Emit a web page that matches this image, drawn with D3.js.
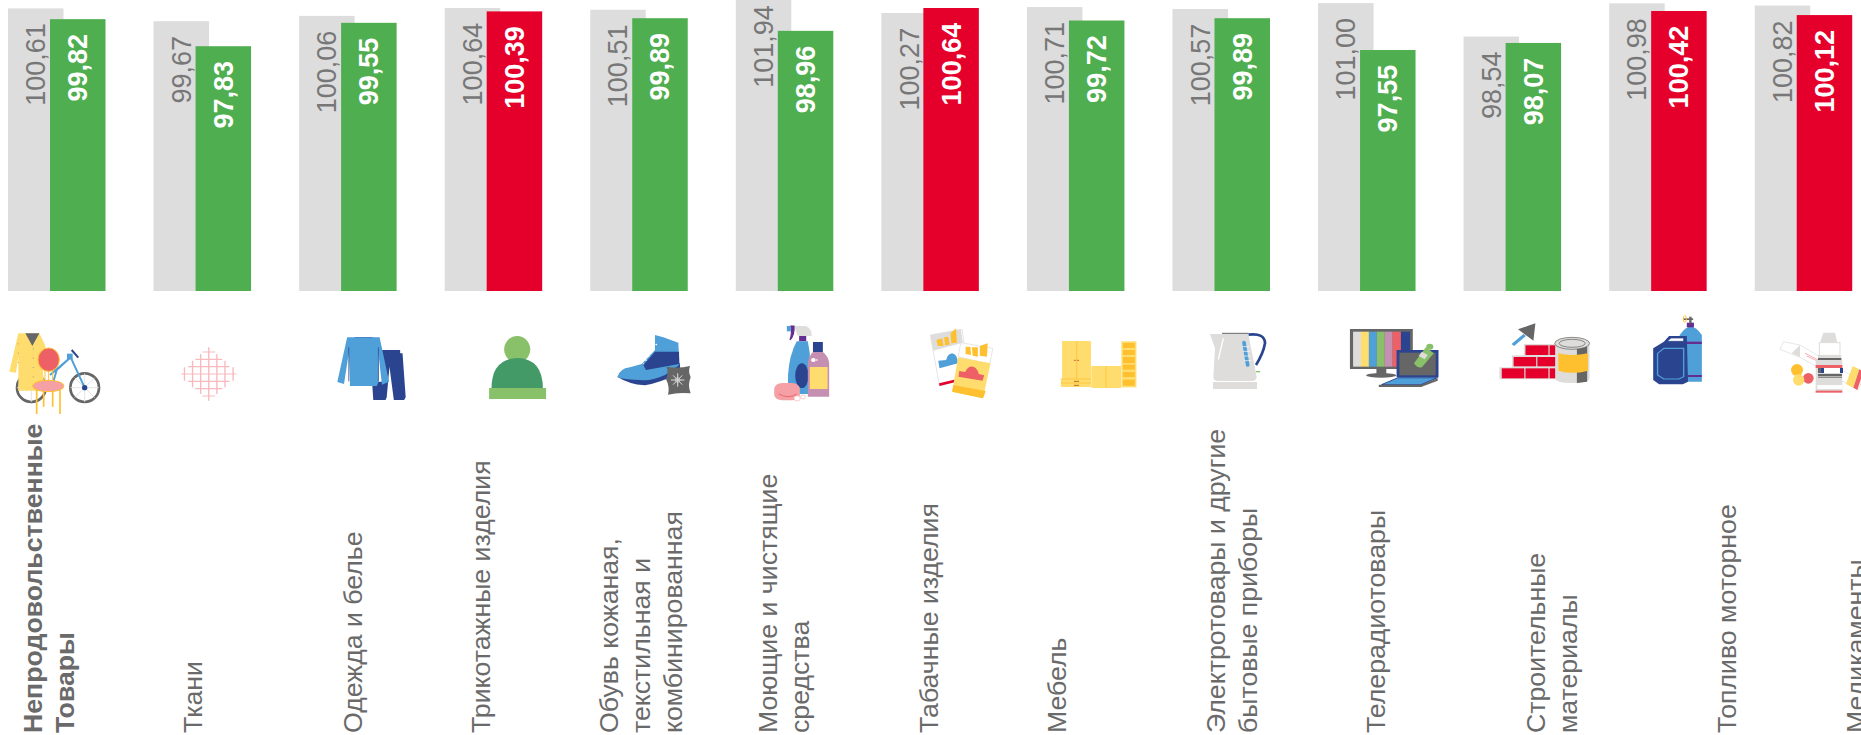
<!DOCTYPE html>
<html lang="ru"><head><meta charset="utf-8">
<script src="https://cdn.jsdelivr.net/npm/d3@7"></script>
<style>
html,body{margin:0;padding:0;background:#fff;overflow:hidden}
svg{display:block}
text{font-family:"Liberation Sans",Arial,sans-serif}
</style></head><body>
<svg id="c" width="1861" height="735"></svg>
<script>
// ---- data ----
const categories = [
  ["Непродовольственные","Товары"],
  ["Ткани"],
  ["Одежда и белье"],
  ["Трикотажные изделия"],
  ["Обувь кожаная,","текстильная и","комбинированная"],
  ["Моющие и чистящие","средства"],
  ["Табачные изделия"],
  ["Мебель"],
  ["Электротовары и другие","бытовые приборы"],
  ["Телерадиотовары"],
  ["Строительные","материалы"],
  ["Топливо моторное"],
  ["Медикаменты"]
];
const previousValues = [100.61,99.67,100.06,100.64,100.51,101.94,100.27,100.71,100.57,101.00,98.54,100.98,100.82];
const currentValues  = [99.82,97.83,99.55,100.39,99.89,98.96,100.64,99.72,99.89,97.55,98.07,100.42,100.12];

// ---- layout ----
const W=1861,H=735, baseY=291, barW=55.5, overlap=42, step=145.56, left=8;
const GREY="#dddddd",GREEN="#4fae50",RED="#e4002b",TXT="#6a6a6a";
const NAVY="#2a4490",BLUE="#4f9fd8",YEL="#ffdc6e",ORG="#ffc030",SAL="#ec6066",PINK="#f4a0a4",LG="#88c16a",DG="#449a66",PUR="#662d91",MAUVE="#c48fb0",G1="#dedddc",G2="#666666";
const labelBaselines=[41.5,201.7,362,489.5,617.6,777,937.5,1065.5,1225,1385,1545,1736,1865];
const lineStep=32, labelBottom=733, fs=26.7, valueFs=27;

const svg=d3.select("#c");
const keys=categories.map((c,i)=>i);
const x=d3.scaleBand().domain(keys).range([left,left+step*keys.length]);
const y=d3.scaleLinear().domain([79.83,100.64]).range([baseY,8]);
const fmt=v=>v.toFixed(2).replace(".",",");

function series(values,dx,fill,textFill,weight){
  const g=svg.append("g");
  g.selectAll("rect").data(values).join("rect")
    .attr("x",(d,i)=>x(i)+dx).attr("y",d=>y(d))
    .attr("width",barW).attr("height",d=>baseY-y(d))
    .attr("fill",fill);
  g.selectAll("text").data(values).join("text")
    .attr("transform",(d,i)=>`translate(${x(i)+dx+barW/2+9.5},${y(d)+14.8}) rotate(-90)`)
    .attr("text-anchor","end")
    .attr("font-size",valueFs).attr("font-weight",weight)
    .attr("fill",textFill).text(fmt);
}
series(previousValues,0,GREY,"#777777","normal");
series(currentValues,overlap,d=>d>100?RED:GREEN,"#ffffff","bold");

// category labels
const lab=svg.append("g");
categories.forEach((lines,i)=>{
  lab.selectAll(null).data(lines).join("text")
    .attr("transform",(d,j)=>`translate(${labelBaselines[i]+j*lineStep},${labelBottom}) rotate(-90)`)
    .attr("font-size",fs).attr("font-weight",i===0?"bold":"normal")
    .attr("fill",TXT).text(d=>d);
});

// ---- icons (decorative pictograms, drawn in local crop coordinates) ----
const SX=1/2.529, SY=1/3;
function icon(ox,oy,sx,sy,markup){
  svg.append("g").attr("transform",`translate(${ox},${oy}) scale(${sx},${sy})`).html(markup);
}
// 0 bike, coat, chair
icon(0,320,1/3,1/3,`
<circle cx="94" cy="203" r="43" fill="none" stroke="${G2}" stroke-width="8"/>
<circle cx="254" cy="203" r="43" fill="none" stroke="${G2}" stroke-width="8"/>
<path d="M94 160V246M51 203H137M254 160V246M211 203H297M224 173L284 233M284 173L224 233" stroke="${G1}" stroke-width="2.5"/>
<path d="M254 203L212 112L170 150L160 185M212 112L150 165" fill="none" stroke="${BLUE}" stroke-width="6"/>
<rect x="201" y="101" width="17" height="17" fill="${BLUE}"/>
<path d="M215 90L235 113" stroke="${NAVY}" stroke-width="6"/>
<circle cx="254" cy="203" r="8" fill="${NAVY}"/>
<path d="M55 40H118L135 75L150 155L128 150L135 212H55L55 110L48 158L28 155Z" fill="${YEL}"/>
<path d="M76 40H118L97 78Z" fill="${G2}"/>
<path d="M55 70V130M100 85V200" stroke="${G2}" stroke-width="1.5" stroke-dasharray="3 25"/>
<path d="M110 205V282M180 205V282M131 205V260M158 205V260" stroke="${ORG}" stroke-width="5"/>
<path d="M135 150V185M146 150V185M158 150V185" stroke="${ORG}" stroke-width="3"/>
<ellipse cx="146" cy="119" rx="32" ry="35" fill="${SAL}" stroke="${ORG}" stroke-width="3"/>
<ellipse cx="145" cy="198" rx="47" ry="17" fill="${PINK}" stroke="${ORG}" stroke-width="3"/>`);

// 1 fabric
(function(){
  let p="";
  const cx=528,cy=192,dx=20.5,dy=22;
  for(let k=-3;k<=3;k++){
    const hx=70-Math.abs(k)*18, hy=80-Math.abs(k)*20;
    p+=`M${cx+k*dx} ${cy-hy}V${cy+hy}M${cx-hx} ${cy+k*dy}H${cx+hx}`;
  }
  icon(0,310,SX,SY,`<path d="${p}" fill="none" stroke="#f8b9bf" stroke-width="3.5"/>`);
})();

// 2 clothes, 3 hat
icon(0,310,SX,SY,`
<path d="M895 81H945Q935 90 920 90Q905 90 895 81Z" fill="${NAVY}"/>
<path d="M966 120H1012V130H1018L1026 262L1022 270H996L985 170L978 262L975 270H944L941 215H966Z" fill="${NAVY}"/>
<path d="M878 82H960L984 215L966 224L957 130L957 216L953 228H885V216L882 130L870 222L853 216Z" fill="${BLUE}"/>
<path d="M882 112V214M957 112V214" stroke="${NAVY}" stroke-width="2"/>
<ellipse cx="1308" cy="118" rx="33" ry="40" fill="${LG}"/>
<path d="M1243 236Q1243 146 1308 144Q1373 146 1373 236Z" fill="${DG}"/>
<rect x="1237" y="234" width="144" height="33" fill="${LG}"/>`);

// 4 boot
icon(600,320,1/3,1/3,`
<path d="M52 170Q85 192 135 196Q175 190 240 160V130L130 150Z" fill="${NAVY}"/>
<path d="M52 172Q58 146 90 142L125 132L165 90V45L190 52L235 68L238 135L195 165Q150 185 120 180Q80 180 52 172Z" fill="${BLUE}"/>
<path d="M130 135L165 95H237L238 132L138 150Z" fill="${NAVY}"/>
<path d="M170 72L130 132" stroke="#fff" stroke-width="5" stroke-dasharray="4 10"/>
<path d="M200 140Q235 146 270 138Q264 155 272 172Q262 195 272 220Q235 216 204 224Q210 200 198 178Q206 160 200 140Z" fill="${G2}"/>
<path d="M233 160V200M213 180H253M219 166L247 194M247 166L219 194" stroke="#dddddd" stroke-width="3"/>
<circle cx="233" cy="180" r="7" fill="none" stroke="#dddddd" stroke-width="2"/>`);

// 5 detergents, 6 cigarettes, 7 furniture
icon(620,310,SX,SY,`
<path d="M440 48H470Q485 55 485 78H450Z" fill="${G1}"/>
<path d="M432 48H440Q442 75 430 90Q436 70 432 48Z" fill="${PUR}" stroke="${PUR}" stroke-width="3"/>
<rect x="422" y="48" width="10" height="16" fill="${BLUE}"/>
<rect x="453" y="78" width="18" height="16" fill="${PUR}"/>
<path d="M447 94H475L480 130V252H425V195Q428 135 447 94Z" fill="${BLUE}"/>
<ellipse cx="460" cy="197" rx="17" ry="37" fill="${NAVY}"/>
<rect x="488" y="96" width="25" height="30" fill="${NAVY}"/>
<path d="M488 126H513Q528 140 529 160V260H475V160Q476 140 488 126Z" fill="${MAUVE}"/>
<rect x="480" y="171" width="45" height="66" fill="${YEL}"/>
<circle cx="489" cy="150" r="6" fill="#fff"/><circle cx="498" cy="150" r="2.5" fill="#fff"/>
<rect x="390" y="219" width="65" height="52" rx="20" ry="18" fill="${PINK}"/>
<path d="M402 252Q425 268 447 252" fill="none" stroke="${SAL}" stroke-width="2.5"/>
<circle cx="448" cy="265" r="8" fill="#fff" stroke="${PINK}" stroke-width="1.5"/>
<circle cx="463" cy="261" r="6" fill="#fff" stroke="${PINK}" stroke-width="1.5"/>

<path d="M785 75L865 58L882 200L808 228Z" fill="#fff" stroke="${G1}" stroke-width="2"/>
<path d="M785 75L862 58L867 98L792 122Z" fill="${G1}"/>
<path d="M800 90L815 85L818 108L804 108ZM820 82L830 80L834 104L822 106ZM836 70L850 55L852 98L838 100Z" fill="${ORG}"/>
<path d="M805 152L825 150Q828 132 840 130Q853 132 855 160L808 175Z" fill="${BLUE}"/>
<path d="M807 220L850 208L852 215L808 228Z" fill="${RED}"/>
<path d="M862 98L943 115L935 162L855 140Z" fill="#fff" stroke="${G1}" stroke-width="2"/>
<path d="M874 110H886L888 135L874 132ZM890 112H905L905 140L892 137ZM910 108L930 100L928 140L910 137Z" fill="${ORG}"/>
<path d="M855 142L937 160L918 265L840 245Z" fill="${YEL}"/>
<path d="M843 225L925 243L918 265L840 245Z" fill="${ORG}"/>
<path d="M858 183L873 186Q880 168 893 170Q905 175 907 192L921 196L917 212L856 200Z" fill="${SAL}"/>

<rect x="1118" y="93" width="73" height="138" fill="${YEL}"/>
<rect x="1115" y="207" width="76" height="24" fill="${YEL}"/>
<path d="M1155 93V207M1115 207H1191M1115 219H1191" stroke="${ORG}" stroke-width="2"/>
<path d="M1148 151H1153M1156 151H1161M1228 199H1224M1232 199H1236" stroke="#c0392b" stroke-width="2"/>
<path d="M1148 214H1161M1148 226H1161" stroke="#b5651d" stroke-width="2.5"/>
<rect x="1192" y="168" width="75" height="66" fill="${YEL}"/>
<path d="M1229 168V234" stroke="${ORG}" stroke-width="2"/>
<rect x="1268" y="94" width="38" height="138" fill="${YEL}"/>
<g fill="${ORG}"><rect x="1272" y="99" width="30" height="15"/><rect x="1272" y="120" width="30" height="15"/><rect x="1272" y="141" width="30" height="18"/><rect x="1272" y="164" width="30" height="15"/><rect x="1272" y="186" width="30" height="15"/><rect x="1272" y="209" width="30" height="18"/></g>`);

// 8 kettle
icon(1190,320,1/3,1/3,`
<path d="M175 44Q225 38 225 70Q220 100 198 135" fill="none" stroke="${NAVY}" stroke-width="8"/>
<path d="M60 42H175L200 170Q200 183 185 183H85Q70 183 70 170L75 85Z" fill="${G1}"/>
<path d="M96 40H175" stroke="${G2}" stroke-width="3"/>
<rect x="69" y="186" width="132" height="21" fill="${G1}"/>
<path d="M100 55L85 118" stroke="#fff" stroke-width="4"/>
<path d="M162 68L173 135" stroke="${BLUE}" stroke-width="11" stroke-linecap="round"/>
<path d="M157 80H178M159 94H180M161 108H182M163 122H184" stroke="#fff" stroke-width="2"/>
<path d="M198 155H210" stroke="${LG}" stroke-width="4"/>`);

// 9 tv, 10 bricks, 11 fuel
icon(1240,310,SX,SY,`
<rect x="278" y="57" width="159" height="120" fill="${G2}"/>
<rect x="286" y="65" width="20" height="105" fill="${G1}"/><rect x="306" y="65" width="20" height="105" fill="${YEL}"/>
<rect x="326" y="65" width="20" height="105" fill="${BLUE}"/><rect x="346" y="65" width="20" height="105" fill="${LG}"/>
<rect x="366" y="65" width="20" height="105" fill="${MAUVE}"/><rect x="386" y="65" width="21" height="105" fill="${SAL}"/>
<rect x="407" y="65" width="23" height="105" fill="${NAVY}"/>
<rect x="345" y="177" width="25" height="16" fill="${G2}"/><ellipse cx="357" cy="196" rx="38" ry="7" fill="${G2}"/>
<rect x="396" y="120" width="106" height="82" fill="${NAVY}"/><rect x="403" y="128" width="92" height="68" fill="${G2}"/>
<path d="M400 203H500L458 224H358Z" fill="${BLUE}" stroke="${NAVY}" stroke-width="3"/>
<path d="M351 224H458L500 205V212L458 231H351Z" fill="${G2}"/>
<path d="M470 112L490 130L460 172Q448 175 440 160Z" fill="${LG}"/><circle cx="480" cy="110" r="9" fill="${LG}"/>
<path d="M460 125L475 135L467 148L452 138Z" fill="${G1}"/>

<path d="M747 40L703 58L742 92Z" fill="${G2}"/>
<path d="M720 75L690 105" stroke="${BLUE}" stroke-width="9"/>
<path d="M718 102H800V170H800V208H656V172H688V136H718Z" fill="${G1}"/>
<g fill="${RED}"><rect x="722" y="106" width="58" height="29"/><rect x="783" y="106" width="17" height="29"/>
<rect x="692" y="141" width="57" height="28"/><rect x="752" y="141" width="48" height="28"/>
<rect x="662" y="175" width="57" height="30"/><rect x="722" y="175" width="58" height="30"/><rect x="783" y="175" width="17" height="30"/></g>
<path d="M797 100H884V205Q884 219 840 219Q797 219 797 205Z" fill="${G1}"/>
<path d="M852 110H878V215L852 219Z" fill="${G2}"/>
<path d="M805 130Q840 140 880 130V182Q840 195 805 182Z" fill="${ORG}"/>
<ellipse cx="840" cy="100" rx="44" ry="18" fill="${G1}" stroke="${G2}" stroke-width="2"/>
<ellipse cx="840" cy="100" rx="33" ry="12" fill="${G1}" stroke="${G2}" stroke-width="2"/>

<path d="M1112 215V75Q1140 25 1168 75V215Z" fill="${BLUE}"/>
<rect x="1112" y="95" width="56" height="7" fill="${PUR}"/><rect x="1112" y="195" width="56" height="6" fill="${PUR}"/>
<rect x="1130" y="38" width="18" height="14" fill="${PUR}"/><rect x="1136" y="20" width="6" height="20" fill="${G2}"/>
<rect x="1122" y="25" width="24" height="5" fill="${G2}"/><ellipse cx="1125" cy="27" rx="4" ry="10" fill="none" stroke="${ORG}" stroke-width="2.5"/>
<path d="M1045 115L1072 95L1085 78H1130L1133 215L1120 223H1060L1045 210Z" fill="${NAVY}"/>
<path d="M1056 130L1072 115H1122V200L1110 207H1072L1056 195Z" fill="none" stroke="${BLUE}" stroke-width="3.5"/>
<path d="M1082 92L1090 84H1122V94H1082Z" fill="#fff" stroke="${NAVY}" stroke-width="2"/>`);

// 12 medicine
icon(1760,320,1/3,1/3,`
<path d="M70 65L120 75L305 185L295 210L120 112L60 88Z" fill="#fff" stroke="#e8e8e8" stroke-width="3"/>
<path d="M120 75L95 100L120 112Z" fill="${G1}"/>
<path d="M278 138L298 148L280 203L258 192Z" fill="${YEL}"/>
<path d="M298 148L310 155L292 210L280 203Z" fill="${SAL}"/>
<path d="M135 100L175 120M140 108L170 122" stroke="${SAL}" stroke-width="1.5"/>
<circle cx="111" cy="150" r="18" fill="${ORG}"/><circle cx="145" cy="175" r="16" fill="${SAL}"/><circle cx="116" cy="180" r="17" fill="${YEL}"/>
<path d="M190 38H225L232 68H180Z" fill="${G1}"/>
<rect x="178" y="68" width="62" height="38" fill="#fff" stroke="#dddddd" stroke-width="3"/>
<rect x="174" y="105" width="70" height="15" fill="${G1}"/><rect x="174" y="114" width="70" height="6" fill="${G2}"/>
<rect x="167" y="120" width="80" height="96" fill="${G1}"/>
<rect x="167" y="135" width="80" height="9" fill="${SAL}"/>
<rect x="183" y="144" width="57" height="15" fill="#fff"/>
<rect x="174" y="144" width="9" height="15" fill="${G2}"/><rect x="183" y="144" width="9" height="15" fill="${NAVY}"/><rect x="240" y="144" width="9" height="15" fill="${NAVY}"/>
<rect x="174" y="162" width="72" height="6" fill="${G2}"/><rect x="174" y="170" width="72" height="3" fill="${G2}"/>
<rect x="172" y="195" width="75" height="12" fill="#fff"/>
<rect x="167" y="212" width="80" height="6" fill="${SAL}"/>`);
</script>
</body></html>
